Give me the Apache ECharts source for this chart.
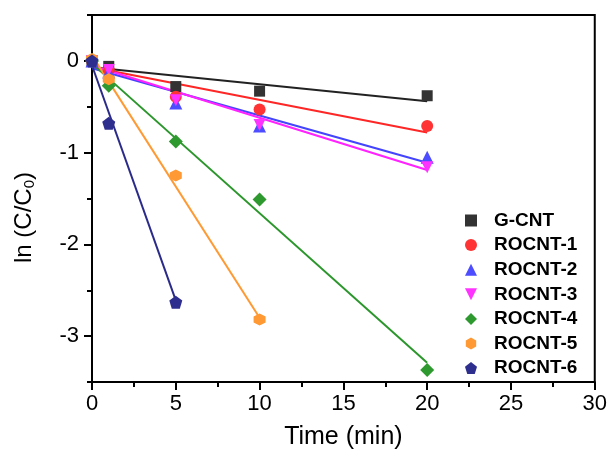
<!DOCTYPE html>
<html><head><meta charset="utf-8">
<script src="https://cdn.jsdelivr.net/npm/echarts@6/dist/echarts.min.js"></script>
<style>html,body{margin:0;padding:0;background:#fff}#c{width:610px;height:455px}</style>
</head><body><div id="c"></div>
<script>
const names = ['G-CNT','ROCNT-1','ROCNT-2','ROCNT-3','ROCNT-4','ROCNT-5','ROCNT-6'];
const colors = ['#333333','#ff3333','#4d4dff','#ff33ff','#2e992e','#ff9933','#2e2e8f'];
const lineColors = ['#222222','#ff2626','#4444ff','#ff22ff','#2b962b','#ff9a33','#2a2a8a'];
const symbols = ['rect','circle','triangle','path://M0,0 L10,0 L5,10 Z','diamond',
  'path://M5,0 L9.33,2.5 L9.33,7.5 L5,10 L0.67,7.5 L0.67,2.5 Z',
  'path://M5,0 L10,3.8 L8.1,10 L1.9,10 L0,3.8 Z'];
const symbolSizes = [11,12,13,12,14,12,13];
const times = [
  [0,1,5,10,20],[0,1,5,10,20],[0,1,5,10,20],[0,1,5,10,20],[0,1,5,10,20],[0,1,5,10],[0,1,5]
];
const values = [
  [0,-0.06,-0.28,-0.33,-0.38],
  [0,-0.10,-0.39,-0.53,-0.71],
  [0,-0.12,-0.46,-0.71,-1.05],
  [0,-0.10,-0.43,-0.70,-1.16],
  [0,-0.27,-0.88,-1.51,-3.37],
  [0.02,-0.20,-1.25,-2.82],
  [0,-0.68,-2.63]
];
// fitted line endpoints
const fitX = [[0,20],[0,20],[0,20],[0,20],[0,20],[0,10],[0,5]];
const fitY = [[-0.07,-0.44],[-0.07,-0.78],[-0.08,-1.11],[-0.05,-1.19],[-0.03,-3.29],[0.06,-2.80],[-0.05,-2.61]];
const xTicks = [0,5,10,15,20,25,30];
const yTicks = [-3,-2,-1,0];

const series = [];
names.forEach((n,i)=>{
  series.push({type:'line', name:n+' fit', data:fitX[i].map((x,j)=>[x,fitY[i][j]]),
    showSymbol:false, symbol:'none', lineStyle:{color:lineColors[i], width:2}, z:2, silent:true});
});
names.forEach((n,i)=>{
  series.push({type:'scatter', name:n, data:times[i].map((x,j)=>[x,values[i][j]]),
    symbol:symbols[i], symbolSize:symbolSizes[i], itemStyle:{color:colors[i], opacity:1}, z:3});
});

const font = 'Liberation Sans';
const chart = echarts.init(document.getElementById('c'));
chart.setOption({
  animation:false,
  backgroundColor:'#fff',
  grid:{left:92,right:13,top:15,bottom:70,show:true,borderColor:'#000',borderWidth:2},
  legend:{data:names, orient:'vertical', left:460, top:206, itemWidth:12, itemHeight:12, itemGap:5.6,
    textStyle:{fontFamily:font, fontWeight:'bold', fontSize:19, lineHeight:19, color:'#000', padding:[0,0,0,12]}},
  xAxis:{type:'value', min:0, max:30, interval:5,
    name:'Time (min)', nameLocation:'middle', nameGap:43,
    nameTextStyle:{fontFamily:font, fontSize:25, color:'#000'},
    axisLine:{onZero:false, lineStyle:{color:'#000', width:2}},
    axisTick:{inside:false, length:8, lineStyle:{color:'#000', width:2}},
    minorTick:{show:true, splitNumber:2, length:5, lineStyle:{color:'#000', width:2}},
    axisLabel:{fontFamily:font, fontSize:22, color:'#000', margin:11,
      formatter:v=> xTicks.includes(v)? String(v):''},
    splitLine:{show:false}},
  yAxis:[{type:'value', min:-3.5, max:0.5, interval:0.5,
    name:'{a|ln (C/C}{b|0}{a|)}', nameLocation:'middle', nameGap:55,
    nameTextStyle:{padding:[0,38,0,0], rich:{a:{fontFamily:font, fontSize:24, color:'#000'},
      b:{fontFamily:font, fontSize:15, color:'#000', verticalAlign:'bottom', padding:[10,0,0,0]}}},
    axisLine:{onZero:false, lineStyle:{color:'#000', width:2}},
    axisTick:{inside:false, length:8, customValues:yTicks, lineStyle:{color:'#000', width:2}},
    axisLabel:{fontFamily:font, fontSize:22, color:'#000', margin:13, customValues:yTicks,
      formatter:v=> String(v)},
    splitLine:{show:false}},
   {type:'value', min:-3.5, max:0.5, interval:0.5, position:'left',
    axisLine:{show:true, onZero:false, lineStyle:{color:'#000', width:2}},
    axisTick:{inside:false, length:5, lineStyle:{color:'#000', width:2}},
    axisLabel:{show:false}, splitLine:{show:false}}],
  series:series
});
</script></body></html>
